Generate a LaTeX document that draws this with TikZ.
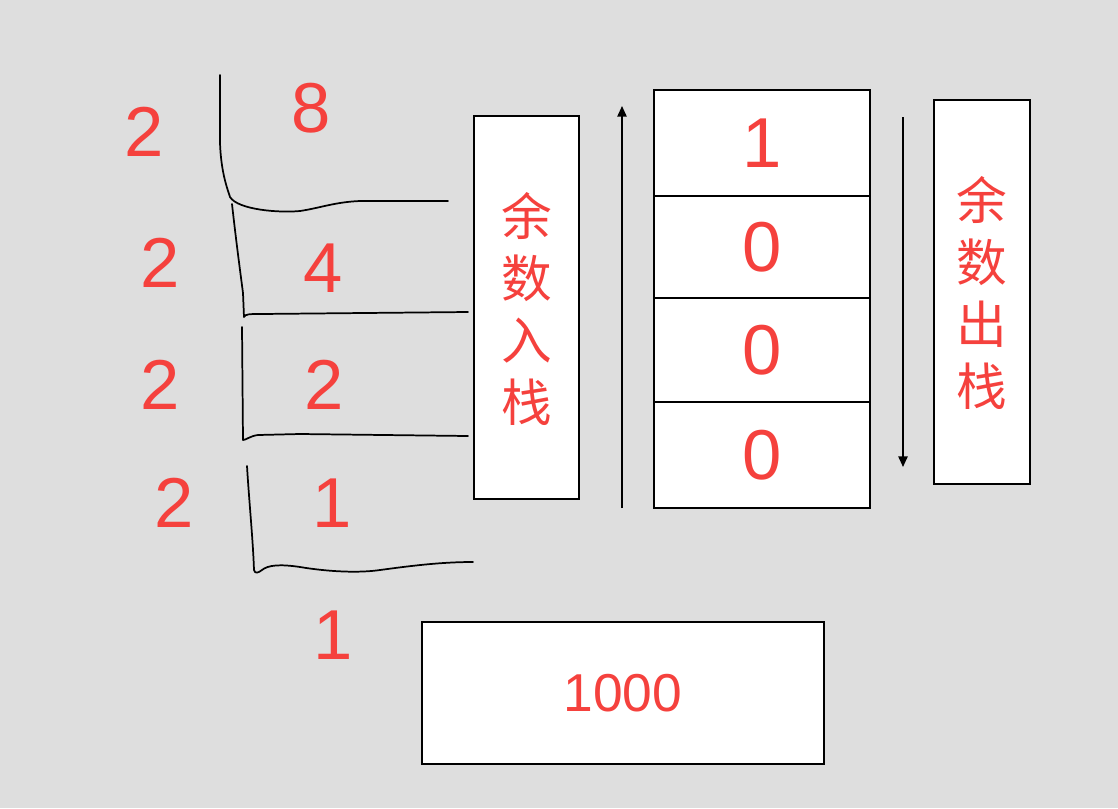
\documentclass[tikz,border=0pt]{standalone}
\usepackage{fontspec}
\setmainfont{Liberation Sans}
\newfontfamily\cjk{Noto Sans CJK SC}
\usetikzlibrary{arrows.meta}
\definecolor{bgc}{HTML}{DEDEDE}
\definecolor{redt}{HTML}{F5413D}
\tikzset{
  big/.style={text=redt, inner sep=0pt, font=\fontsize{53}{60}\selectfont},
  mid/.style={text=redt, inner sep=0pt, font=\fontsize{40}{48}\selectfont},
  cjkt/.style={text=redt, inner sep=0pt, align=center, font=\cjk\fontsize{38}{46.5}\selectfont},
  box/.style={draw=black, line width=1.5pt, fill=white},
  hand/.style={draw=black, line width=1.3pt, line cap=round, line join=round},
  arr/.style={draw=black, line width=1.2pt, -{Triangle[length=8pt,width=7pt]}}
}
\begin{document}
\begin{tikzpicture}[x=0.75pt,y=-0.75pt]
\fill[bgc] (0,0) rectangle (1118,808);
\useasboundingbox (0,0) rectangle (1118,808);

% hand-drawn division brackets
\path[hand] (220,75) -- (220,143) .. controls (221,170) and (226,185) .. (230,197)
  .. controls (238,210) and (280,213) .. (300,211)
  .. controls (320,208) and (335,202) .. (360,201) -- (448,201);
\path[hand] (232,204) .. controls (236,240) and (240,270) .. (243,293) -- (244,317)
  .. controls (245,314) and (250,314) .. (260,314) -- (468,312);
\path[hand] (242,327) -- (243,440) .. controls (246,440) and (250,436) .. (258,435)
  -- (300,434) -- (468,436);
\path[hand] (247,466) .. controls (249,500) and (253,540) .. (254,570)
  .. controls (255,574) and (258,573) .. (262,570)
  .. controls (268,565) and (280,564) .. (300,567)
  .. controls (330,572) and (360,573) .. (380,570)
  .. controls (410,566) and (440,562) .. (473,562);

% division digits
\node[big] (d1) at (144,132) {2};
\node[big] (q1) at (311,108) {8};
\node[big] (d2) at (160,263) {2};
\node[big] (q2) at (323,268) {4};
\node[big] (d3) at (160,385) {2};
\node[big] (q3) at (324,385) {2};
\node[big] (d4) at (174,503) {2};
\node[big] (q4) at (332,503) {1};
\node[big] (q5) at (333,635) {1};

% push box
\node[box, minimum width=105pt*0.75, minimum height=383pt*0.75] (push) at (526.5,307.5) {};
\node[cjkt] (pusht) at (527,309) {余\\数\\入\\栈};

% stack cells
\node[box, minimum width=216pt*0.75, minimum height=106pt*0.75] (c1) at (762,143) {};
\node[box, minimum width=216pt*0.75, minimum height=102pt*0.75] (c2) at (762,247) {};
\node[box, minimum width=216pt*0.75, minimum height=104pt*0.75] (c3) at (762,350) {};
\node[box, minimum width=216pt*0.75, minimum height=106pt*0.75] (c4) at (762,455) {};
\node[big] at (c1) {1};
\node[big] at (c2) {0};
\node[big] at (c3) {0};
\node[big] at (c4) {0};

% pop box
\node[box, minimum width=96pt*0.75, minimum height=384pt*0.75] (pop) at (982,292) {};
\node[cjkt] (popt) at (982,293) {余\\数\\出\\栈};

% arrows
\coordinate (ua) at (622,508);
\coordinate (ub) at (622,106);
\coordinate (da) at (903,117);
\coordinate (db) at (903,467);
\draw[arr] (ua) -- (ub);
\draw[arr] (da) -- (db);

% result box
\node[box, minimum width=402pt*0.75, minimum height=142pt*0.75] (res) at (623,693) {};
\node[mid] at (res) {1000};
\end{tikzpicture}
\end{document}
